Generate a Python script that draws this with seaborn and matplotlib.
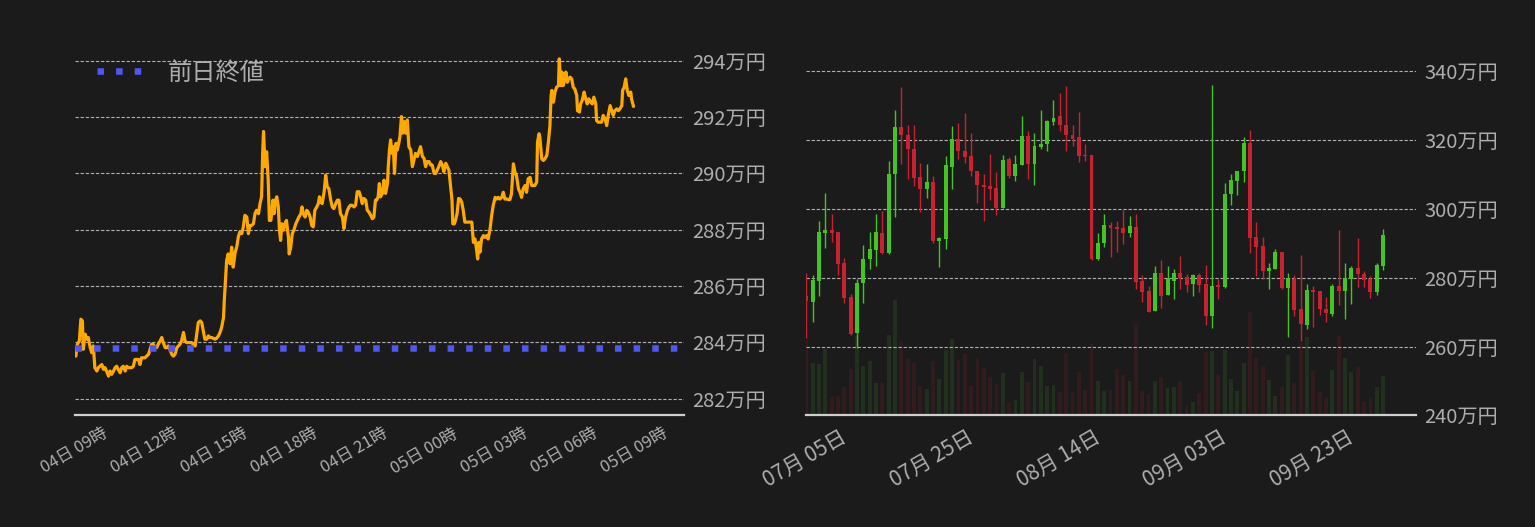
import numpy as np
import pandas as pd
import matplotlib
matplotlib.use("Agg")
import matplotlib.pyplot as plt
import matplotlib.dates as mdates
from matplotlib.ticker import FuncFormatter
import seaborn as sns

# ---------------- intraday price (left panel), 万円 ----------------
session_open = pd.Timestamp("2022-10-04 07:30")
minutes_from_open = [
    0, 4, 9, 13, 17, 19, 24, 28, 32, 37,
    41, 45, 49, 54, 58, 62, 67, 71, 75, 79,
    84, 88, 92, 97, 101, 105, 109, 114, 118, 122,
    127, 131, 135, 139, 144, 148, 152, 157, 161, 165,
    169, 174, 178, 182, 187, 191, 195, 199, 204, 208,
    212, 217, 221, 225, 230, 234, 238, 242, 247, 251,
    255, 260, 264, 268, 272, 277, 281, 285, 290, 294,
    298, 302, 307, 311, 315, 320, 324, 328, 332, 337,
    341, 345, 350, 354, 358, 362, 367, 371, 375, 380,
    382, 385, 388, 392, 397, 401, 405, 410, 414, 418,
    422, 427, 431, 435, 440, 444, 448, 452, 457, 461,
    465, 470, 474, 478, 481, 483, 487, 491, 495, 498,
    502, 507, 510, 514, 517, 521, 524, 527, 530, 534,
    538, 542, 547, 549, 553, 557, 561, 566, 570, 574,
    579, 582, 585, 590, 594, 598, 603, 607, 611, 615,
    620, 624, 627, 630, 634, 639, 643, 647, 651, 656,
    660, 664, 669, 673, 677, 681, 686, 690, 694, 699,
    703, 707, 711, 716, 720, 724, 729, 733, 737, 741,
    746, 750, 754, 759, 763, 767, 771, 774, 778, 781,
    784, 789, 793, 797, 802, 804, 807, 810, 814, 817,
    820, 824, 827, 831, 834, 838, 841, 844, 849, 853,
    857, 862, 866, 870, 874, 879, 883, 887, 892, 896,
    900, 904, 909, 913, 917, 922, 926, 930, 934, 939,
    943, 947, 952, 956, 960, 964, 968, 970, 974, 977,
    981, 985,
    989, 993, 997, 1001, 1006, 1010, 1014, 1019, 1023, 1027,
    1031, 1034, 1037, 1040, 1044, 1049, 1053, 1057, 1061, 1066,
    1070, 1074, 1079, 1083, 1087, 1091, 1096, 1100, 1104, 1109,
    1113, 1117, 1121, 1126, 1130, 1134, 1139, 1143, 1147, 1151,
    1156, 1160, 1164, 1169, 1173, 1177, 1181, 1186, 1188, 1192,
    1194, 1199, 1203, 1207, 1212, 1216, 1220, 1223, 1225, 1229,
    1233, 1237, 1242, 1244, 1248, 1251, 1254, 1259, 1261, 1265,
    1268, 1272, 1276, 1280, 1284, 1289, 1291, 1296, 1299, 1303,
    1308, 1312, 1316, 1320, 1325, 1329, 1333, 1338, 1340, 1344,
    1349, 1353, 1357, 1362, 1366, 1370, 1375, 1379, 1383, 1387,
    1392, 1396, 1400, 1405, 1407, 1411, 1415, 1419, 1423, 1428,
    1430, 1435,
]
price_man_yen = [
    283.51, 283.93, 284.05, 284.82, 284.76, 283.75, 284.29, 284.11, 284.17, 283.81,
    283.63, 283.87, 283.10, 282.98, 283.10, 283.15, 283.21, 283.04, 283.10, 282.98,
    282.80, 282.98, 282.86, 282.98, 283.10, 283.15, 283.04, 282.92, 283.10, 283.15,
    282.98, 283.15, 283.10, 283.10, 283.10, 283.15, 283.39, 283.39, 283.39, 283.21,
    283.45, 283.45, 283.45, 283.51, 283.57, 283.75, 283.93, 283.93, 283.81, 283.81,
    283.93, 284.05, 284.17, 283.99, 283.81, 283.81, 283.87, 283.75, 283.57, 283.51,
    283.57, 283.81, 283.87, 283.93, 284.05, 284.35, 284.05, 283.99, 283.99, 283.99,
    283.99, 283.93, 283.87, 284.29, 284.70, 284.76, 284.70, 284.40, 284.11, 284.11,
    284.23, 284.17, 284.17, 284.14, 284.11, 284.14, 284.23, 284.35, 284.52, 284.88,
    285.48, 286.19, 286.90, 287.14, 286.79, 287.38, 286.67, 287.20, 287.38, 287.74,
    287.92, 287.86, 288.10, 288.51, 288.45, 287.86, 288.15, 288.15, 288.21, 288.57,
    288.69, 288.57, 288.93, 289.17, 290.83, 291.49, 290.24, 290.77, 289.76, 288.33,
    288.33, 289.05, 288.57, 289.05, 289.17, 288.81, 287.98, 287.62, 288.21, 287.98,
    288.21, 288.33, 287.74, 287.14, 287.38, 287.86, 287.98, 288.21, 288.33, 288.45,
    288.57, 288.81, 288.57, 288.45, 288.69, 288.63, 288.45, 288.15, 288.10, 288.69,
    288.81, 288.93, 289.17, 288.99, 288.93, 289.35, 289.94, 289.52, 289.46, 289.05,
    288.81, 288.75, 288.93, 289.05, 289.05, 288.57, 288.45, 288.04, 288.45, 288.69,
    288.81, 288.87, 288.87, 288.81, 288.87, 289.35, 289.35, 289.17, 288.93, 289.11,
    289.05, 288.69, 288.63, 288.51, 288.39, 288.45, 289.05, 289.05, 289.17, 289.64,
    289.17, 289.29, 289.76, 289.29, 289.64, 290.24, 290.83, 291.19, 290.71, 290.95,
    290.00, 291.07, 290.83, 291.07, 291.31, 292.02, 291.43, 291.85, 291.43, 291.90,
    290.95, 290.83, 290.24, 290.48, 290.71, 290.60, 290.77, 290.95, 290.60, 290.54,
    290.24, 290.42, 290.42, 290.30, 290.30, 290.00, 290.00, 290.12, 290.24, 290.42,
    290.30, 290.06, 290.36, 290.24, 290.12, 289.58, 289.05, 288.21, 288.21, 288.33,
    288.57, 289.11,
    289.09, 288.98, 288.68, 288.27, 288.27, 288.27, 288.27, 288.27, 287.55, 287.67,
    287.32, 286.96, 287.55, 287.20, 287.67, 287.79, 287.73, 287.79, 287.67, 288.03,
    288.50, 288.86, 289.15, 289.09, 289.15, 289.09, 289.15, 289.33, 289.09, 289.09,
    289.07, 289.07, 289.27, 290.34, 290.04, 289.92, 289.45, 289.33, 289.15, 289.45,
    289.57, 289.33, 289.81, 289.86, 289.57, 289.57, 289.57, 289.69, 291.11, 291.41,
    291.29, 290.52, 290.46, 290.52, 290.64, 291.11, 291.70, 292.77, 292.95, 292.53,
    292.89, 293.06, 293.12, 294.07, 293.12, 293.60, 293.12, 293.36, 293.60, 293.24,
    293.36, 293.42, 293.36, 293.06, 293.00, 292.77, 292.23, 292.18, 292.47, 292.59,
    292.89, 292.65, 292.47, 292.65, 292.53, 292.47, 292.71, 292.47, 291.88, 291.82,
    291.82, 291.82, 292.06, 291.94, 291.70, 292.06, 292.41, 292.23, 292.06, 292.23,
    292.29, 292.23, 292.29, 292.41, 292.95, 293.06, 293.36, 292.95, 292.77, 292.89,
    292.65, 292.38,
]
prev_close = 283.78
intraday_yticks = [282, 284, 286, 288, 290, 292, 294]
intraday_xticks = pd.date_range("2022-10-04 09:00", "2022-10-05 09:00", freq="3h")

# ---------------- daily candles (right panel), 万円 ----------------
days = pd.date_range("2022-06-28", periods=92, freq="D")
opens = [
    274.6, 272.9, 279.0, 293.1, 293.7, 293.4, 284.2, 274.3, 264.0, 278.5,
    285.4, 288.0, 293.1, 287.3, 310.0, 323.6, 321.3, 317.5, 309.1, 305.7,
    307.9, 290.6, 291.2, 312.1, 320.4, 316.9, 315.2, 311.1, 306.8, 306.5,
    305.9, 300.2, 314.6, 309.5, 312.7, 321.0, 312.9, 317.8, 318.7, 325.3,
    326.8, 324.4, 321.3, 320.7, 315.5, 315.5, 285.3, 290.0, 295.2, 294.6,
    294.3, 292.9, 294.6, 278.9, 276.0, 270.3, 281.3, 275.0, 279.0, 281.5,
    280.1, 278.2, 280.7, 278.1, 268.9, 277.8, 277.3, 304.3, 308.0, 310.9,
    319.2, 291.7, 289.1, 281.9, 282.5, 287.6, 277.0, 279.5, 270.8, 266.3,
    276.3, 276.0, 270.9, 269.5, 277.5, 276.1, 279.6, 282.7, 281.0, 279.6,
    275.8, 283.4,
]
highs = [
    281.5, 280.7, 296.6, 304.7, 298.6, 293.4, 285.6, 275.4, 279.7, 289.4,
    293.4, 298.4, 299.5, 314.0, 328.8, 335.5, 324.2, 324.4, 313.4, 313.1,
    309.4, 291.8, 315.2, 323.9, 325.0, 327.9, 322.1, 311.1, 310.2, 316.0,
    310.8, 315.5, 314.9, 315.7, 326.8, 322.7, 322.1, 328.8, 325.9, 331.7,
    333.7, 335.7, 324.4, 328.2, 318.9, 315.5, 293.1, 298.4, 296.3, 296.6,
    299.6, 297.8, 298.6, 280.8, 277.7, 283.3, 285.0, 283.3, 282.4, 286.2,
    281.0, 281.0, 281.5, 283.6, 336.0, 279.5, 307.6, 310.2, 311.1, 320.7,
    323.0, 296.3, 291.7, 284.4, 288.2, 287.6, 281.5, 280.8, 286.5, 278.1,
    277.5, 276.0, 274.3, 278.1, 293.8, 284.4, 283.3, 291.4, 281.8, 280.4,
    284.4, 294.0,
]
lows = [
    262.4, 267.1, 274.7, 288.6, 290.3, 280.8, 272.7, 263.3, 259.7, 272.7,
    282.4, 283.4, 287.0, 286.8, 297.6, 312.9, 308.6, 306.5, 299.0, 303.1,
    290.0, 283.1, 288.3, 305.7, 314.4, 313.2, 309.5, 301.6, 296.4, 302.5,
    298.2, 300.2, 308.9, 308.2, 312.7, 308.6, 306.9, 317.5, 316.7, 324.4,
    322.7, 316.9, 318.1, 313.7, 314.0, 285.0, 285.0, 288.8, 286.0, 287.4,
    289.8, 291.8, 276.7, 272.9, 270.0, 270.3, 271.2, 275.0, 273.8, 276.7,
    275.8, 274.7, 275.8, 266.3, 265.4, 273.8, 277.0, 301.1, 304.0, 307.7,
    287.1, 280.5, 279.6, 276.7, 282.5, 276.7, 262.8, 268.9, 261.6, 265.1,
    265.7, 269.2, 267.1, 268.9, 272.0, 268.0, 272.4, 277.3, 277.3, 274.1,
    274.9, 282.2,
]
closes = [
    273.2, 279.2, 293.4, 293.7, 293.1, 284.0, 274.1, 263.6, 278.6, 285.3,
    288.2, 293.4, 287.1, 310.2, 323.6, 321.4, 317.3, 308.9, 305.7, 307.9,
    290.6, 291.4, 312.6, 320.4, 316.7, 315.0, 310.9, 306.9, 306.2, 305.7,
    300.2, 314.3, 309.5, 312.9, 321.0, 312.9, 318.1, 318.9, 325.6, 326.5,
    324.2, 321.3, 320.4, 315.2, 315.2, 285.3, 290.2, 295.2, 294.4, 294.0,
    292.9, 294.9, 278.7, 275.8, 270.0, 281.3, 274.7, 279.5, 281.5, 279.8,
    277.9, 280.7, 277.9, 268.9, 277.5, 277.3, 304.4, 308.5, 311.1, 319.2,
    291.5, 288.9, 281.9, 282.7, 287.6, 277.0, 279.8, 270.6, 266.6, 276.3,
    275.8, 270.9, 269.8, 277.5, 276.1, 279.8, 282.7, 281.1, 279.3, 275.8,
    283.6, 292.3,
]
volume = [
    75.7, 53, 52, 66.7, 19, 20, 29, 46.3, 79.7, 50,
    55, 33, 33, 81, 116, 75, 57, 53, 30, 27,
    55, 37, 65.3, 77, 56, 62, 30, 58, 48, 39,
    32, 43, 12, 16, 44, 34, 57, 50, 30, 31,
    24, 63, 24, 44, 26, 72, 35, 25, 26, 47,
    41, 35, 92, 25, 21, 35, 39, 28, 29, 35,
    10, 13, 23, 64, 65, 41, 66, 37, 25, 53,
    104, 58, 50, 36, 20, 29, 61, 33, 73, 79,
    45, 24, 19, 46, 80, 58, 44, 49, 13, 19,
    29, 40,
]
daily_yticks = [240, 260, 280, 300, 320, 340]
daily_xticks = pd.date_range("2022-07-05", periods=5, freq="20D")

# ---------------- style ----------------
BG = "#1b1b1b"
TXT = "#adadad"
GRID = "#b0b0b0"
ORANGE = "#ffa800"
BLUE = "#5056f5"
UP = "#44c424"
DOWN = "#c8212f"

sns.set_theme(style="dark", rc={
    "figure.facecolor": BG,
    "axes.facecolor": BG,
    "savefig.facecolor": BG,
})
plt.rcParams["font.family"] = ["Noto Sans CJK JP", "DejaVu Sans"]

fig = plt.figure(figsize=(15.35, 5.27), dpi=100)
ax_l = fig.add_axes([0.0489, 0.2116, 0.3967, 0.7125])
ax_r = fig.add_axes([0.5251, 0.2116, 0.3974, 0.7125])


def style_axis(ax):
    for side in ["top", "left", "right"]:
        ax.spines[side].set_visible(False)
    ax.spines["bottom"].set_color("#cfcfcf")
    ax.spines["bottom"].set_linewidth(1.6)
    ax.yaxis.tick_right()
    ax.grid(axis="y", color=GRID, lw=0.8, ls=(0, (3, 1.6)))
    ax.grid(axis="x", visible=False)
    ax.tick_params(axis="y", length=0, pad=6, labelsize=14.5, labelcolor=TXT)
    ax.tick_params(axis="x", length=0, labelcolor=TXT)
    ax.yaxis.set_major_formatter(FuncFormatter(lambda v, _: f"{v:.0f}万円"))
    ax.set_xlabel("")
    ax.set_ylabel("")


# ---------------- left: intraday line ----------------
times = session_open + pd.to_timedelta(minutes_from_open, unit="min")
intraday = pd.DataFrame({"time": times, "price": price_man_yen})
sns.lineplot(data=intraday, x="time", y="price", ax=ax_l, color=ORANGE,
             lw=2.3, zorder=3)
prev_line = ax_l.axhline(prev_close, color=BLUE, lw=4.7, ls=(0, (1, 1.85)),
                         dash_capstyle="butt", label="前日終値", zorder=4)
ax_l.set_xlim(session_open - pd.Timedelta(minutes=2),
              pd.Timestamp("2022-10-05 09:35"))
ax_l.set_ylim(281.40, 294.74)
ax_l.set_yticks(intraday_yticks)
style_axis(ax_l)
ax_l.set_xticks(intraday_xticks)
ax_l.set_xticklabels([t.strftime("%d日 %H時") for t in intraday_xticks],
                     rotation=30, ha="right", fontsize=12, color=TXT)
ax_l.tick_params(axis="x", pad=7)
leg = ax_l.legend(handles=[prev_line], loc="upper left",
                  bbox_to_anchor=(0.036, 0.948), frameon=False,
                  fontsize=17.5, labelcolor=TXT, handlelength=1.85,
                  handletextpad=1.07, borderpad=0, borderaxespad=0)

# ---------------- right: daily candles + volume ----------------
ax_v = ax_r.twinx()
is_up = np.array(closes) >= np.array(opens)
vol_colors = [UP if u else DOWN for u in is_up]
ax_v.bar(days, volume, width=0.6, color=vol_colors, alpha=0.13, linewidth=0)
ax_v.set_ylim(0, max(volume) * 3.24)
ax_v.set_yticks([])
for side in ax_v.spines:
    ax_v.spines[side].set_visible(False)
ax_r.set_zorder(ax_v.get_zorder() + 1)
ax_r.patch.set_visible(False)

candle_colors = [UP if u else DOWN for u in is_up]
ax_r.vlines(days, lows, highs, colors=candle_colors, lw=1.0, zorder=3)
body_low = np.minimum(opens, closes)
body_h = np.abs(np.array(closes) - np.array(opens))
ax_r.bar(days, body_h, bottom=body_low, width=0.62, color=candle_colors,
         linewidth=0, zorder=4)
ax_r.set_xlim(days[0] - pd.Timedelta(hours=1), days[0] + pd.Timedelta(days=96.2))
ax_r.set_ylim(240, 349)
ax_r.set_yticks(daily_yticks)
style_axis(ax_r)
ax_r.set_xticks(daily_xticks)
ax_r.set_xticklabels([d.strftime("%m月 %d日") for d in daily_xticks],
                     rotation=30, ha="right", fontsize=15, color=TXT)
ax_r.tick_params(axis="x", pad=8)

fig.savefig("out.png", dpi=100, facecolor=BG)
